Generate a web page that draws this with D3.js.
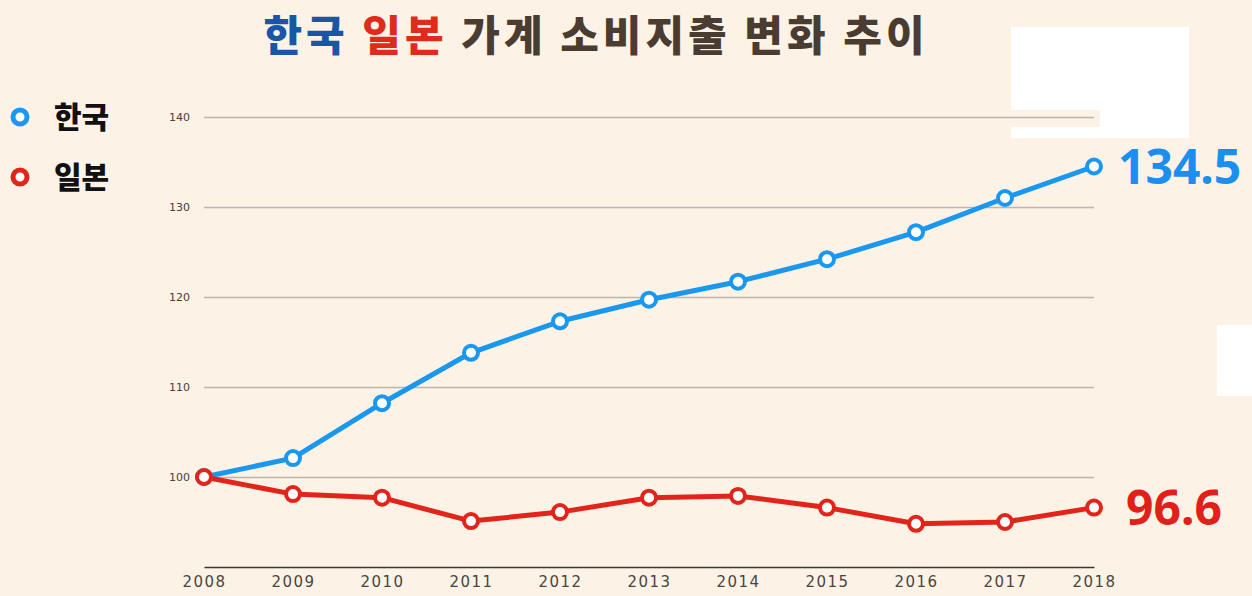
<!DOCTYPE html>
<html>
<head>
<meta charset="utf-8">
<script src="https://cdn.jsdelivr.net/npm/d3@7"></script>
<style>
  body { margin: 0; background: #fdf2e6; }
  svg { display: block; }
</style>
</head>
<body>
<div id="chart"></div>
<script>
// data (index, 2008 = 100)
const years = [2008, 2009, 2010, 2011, 2012, 2013, 2014, 2015, 2016, 2017, 2018];
const korea = [100, 102.1, 108.2, 113.8, 117.3, 119.7, 121.7, 124.2, 127.2, 131.0, 134.5];
const japan = [100, 98.1, 97.7, 95.1, 96.1, 97.7, 97.9, 96.6, 94.8, 95.0, 96.6];
const yTicks = [100, 110, 120, 130, 140];
const seriesNames = ["한국", "일본"];

const width = 1252, height = 596;
const config = { left: 204, right: 158, top: 117, bottom: 29 };

const svg = d3.select("#chart")
    .append("svg")
    .attr("width", width)
    .attr("height", height);

svg.append("rect")
    .attr("width", width)
    .attr("height", height)
    .attr("fill", "#fdf2e6");

const xScale = d3.scalePoint()
    .domain(years)
    .range([config.left, width - config.right]);

const yScale = d3.scaleLinear()
    .domain([90, 140])
    .range([height - config.bottom, config.top]);

// gridlines
const yAxis = d3.axisLeft(yScale)
    .tickValues(yTicks)
    .tickSize(-(xScale.range()[1] - xScale.range()[0]))
    .tickPadding(14);

const gy = svg.append("g")
    .attr("transform", `translate(${config.left},0)`)
    .call(yAxis);
gy.select(".domain").remove();
gy.selectAll("line").attr("stroke", "#bdb6ae").attr("stroke-width", 1.5);
gy.selectAll("text")
    .attr("fill", "#4a4038")
    .style("font-family", "'DejaVu Sans', sans-serif")
    .style("font-size", "11px");

// x axis
const xAxis = d3.axisBottom(xScale).tickSize(0).tickPadding(9);
const gx = svg.append("g")
    .attr("transform", `translate(0,${yScale(90)})`)
    .call(xAxis);
gx.select(".domain").attr("stroke", "#3a3530").attr("stroke-width", 1.5);
gx.selectAll("text")
    .attr("fill", "#4a4540")
    .style("font-family", "'DejaVu Sans', sans-serif")
    .style("font-size", "15px")
    .style("letter-spacing", "1.5px");

// lines
const series = [
    { name: seriesNames[0], values: korea, color: "#1a98f0", label: "#1a8ff0", dx: 24 },
    { name: seriesNames[1], values: japan, color: "#e3241a", label: "#e2201a", dx: 32 }
];

const line = d3.line()
    .x((d, i) => xScale(years[i]))
    .y(d => yScale(d));

series.forEach(s => {
    svg.append("path")
        .datum(s.values)
        .attr("d", line)
        .attr("fill", "none")
        .attr("stroke", s.color)
        .attr("stroke-width", 5)
        .attr("stroke-linejoin", "round");
});

series.forEach(s => {
    svg.selectAll(null)
        .data(s.values)
        .join("circle")
        .attr("cx", (d, i) => xScale(years[i]))
        .attr("cy", d => yScale(d))
        .attr("r", 7)
        .attr("fill", "#ffffff")
        .attr("stroke", s.color)
        .attr("stroke-width", 4);
});

// end value labels
series.forEach(s => {
    const last = s.values[s.values.length - 1];
    svg.append("text")
        .attr("x", xScale(years[years.length - 1]) + s.dx)
        .attr("y", yScale(last))
        .attr("dy", "0.36em")
        .attr("fill", s.label)
        .style("font-family", "'Noto Sans', sans-serif")
        .style("font-weight", "bold")
        .style("font-size", "48px")
        .text(last.toFixed(1));
});

// white patches covering part of the frame
svg.append("path")
    .attr("d", "M1011,27 H1189 V138 H1011 V127 H1100 V110 H1011 Z")
    .attr("fill", "#ffffff");
svg.append("rect")
    .attr("x", 1217).attr("y", 325)
    .attr("width", 35).attr("height", 71)
    .attr("fill", "#ffffff");

// legend
series.forEach((s, i) => {
    const ly = 117 + i * 60;
    svg.append("circle")
        .attr("cx", 20).attr("cy", ly)
        .attr("r", 7)
        .attr("fill", "#ffffff")
        .attr("stroke", s.color)
        .attr("stroke-width", 5);
    svg.append("text")
        .attr("x", 54).attr("y", ly)
        .attr("dy", "0.36em")
        .attr("fill", "#111111")
        .style("font-family", "'Noto Sans CJK KR', sans-serif")
        .style("font-weight", "900")
        .style("font-size", "30px")
        .text(s.name);
});

// title
const title = svg.append("text")
    .attr("x", 596).attr("y", 51)
    .attr("text-anchor", "middle")
    .style("font-family", "'Noto Sans CJK KR', sans-serif")
    .style("font-weight", "900")
    .style("font-size", "42px")
    .style("letter-spacing", "4px");
title.append("tspan").attr("fill", "#1a56a8").text("한국 ");
title.append("tspan").attr("fill", "#e02a1c").text("일본 ");
title.append("tspan").attr("fill", "#4a3c30").text("가계 소비지출 변화 추이");
</script>
</body>
</html>
